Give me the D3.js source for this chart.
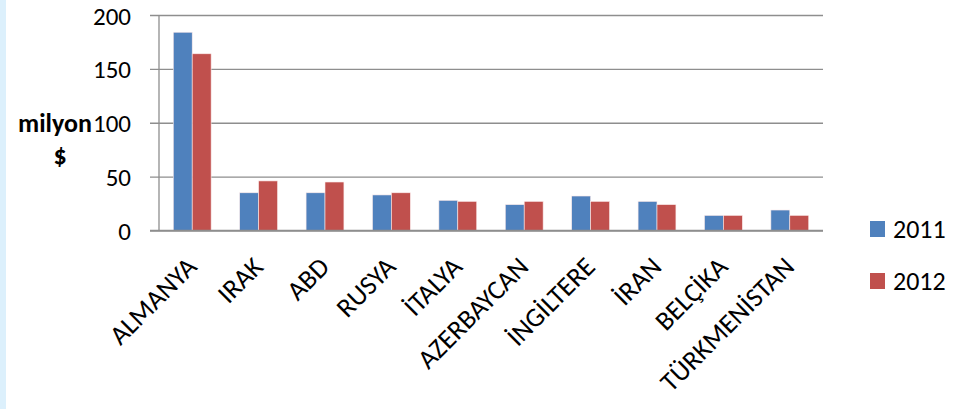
<!DOCTYPE html>
<html><head><meta charset="utf-8">
<script src="https://cdn.jsdelivr.net/npm/d3@7"></script>
<style>
html,body{margin:0;padding:0;background:#fff;}
text{font-family:Carlito,Lato,"Open Sans",sans-serif;fill:#000;}
</style></head>
<body><svg id="c" width="954" height="409"></svg>
<script>
const categories = ["ALMANYA","IRAK","ABD","RUSYA","İTALYA","AZERBAYCAN","İNGİLTERE","İRAN","BELÇİKA","TÜRKMENİSTAN"];
const seriesNames = ["2011","2012"];
const values2011 = [184, 35, 35, 33, 28, 24, 32, 27, 14, 19];
const values2012 = [164, 46, 45, 35, 27, 27, 27, 24, 14, 14];
const yTicks = [0, 50, 100, 150, 200];
const colors = ["#4f81bd", "#c0504d"];

const svg = d3.select("#c");
svg.append("rect").attr("x",0).attr("y",0).attr("width",6).attr("height",409).attr("fill","#dcf0fc");

const L = 159, R = 823, T = 15, B = 230.5;
const x = d3.scaleBand().domain(categories).range([L, R]).paddingInner(0.43).paddingOuter(0.215);
const xs = d3.scaleBand().domain(seriesNames).range([0, x.bandwidth()]);
const y = d3.scaleLinear().domain([0, 200]).range([B, T]);

// gridlines
const yAxis = d3.axisLeft(y).tickValues(yTicks).tickSize(-(R - L)).tickPadding(0).tickFormat(d3.format("d"));
const ga = svg.append("g").attr("transform", `translate(${L},0)`).call(yAxis);
ga.select(".domain").remove();
ga.selectAll(".tick line").attr("stroke", "#8e8e8e").attr("stroke-width", 1.3).attr("x1", -9);
ga.selectAll(".tick text").attr("x", -28).attr("dy", "0.36em").attr("font-size", 25).attr("fill", "#000")
  .style("font-family", "Carlito,Lato,sans-serif");
svg.append("line").attr("x1", L).attr("x2", L).attr("y1", T).attr("y2", B).attr("stroke", "#8e8e8e").attr("stroke-width", 1.3);

// bars
const data = categories.map((c, i) => ({c, vals: [values2011[i], values2012[i]]}));
const groups = svg.append("g").selectAll("g").data(data).join("g")
  .attr("transform", d => `translate(${x(d.c)},0)`);
groups.selectAll("rect").data(d => d.vals.map((v, j) => ({k: seriesNames[j], v, j})))
  .join("rect")
  .attr("x", d => xs(d.k)).attr("width", xs.bandwidth())
  .attr("y", d => y(d.v)).attr("height", d => y(0) - y(d.v))
  .attr("fill", d => colors[d.j]).attr("stroke", "#fbeaea").attr("stroke-width", 0.6);

// baseline over bars
svg.append("line").attr("x1", L - 9).attr("x2", R).attr("y1", B).attr("y2", B).attr("stroke", "#8e8e8e").attr("stroke-width", 1.3);

// x labels
const xAxis = d3.axisBottom(x).tickSize(0).tickPadding(0);
const gx = svg.append("g").attr("transform", `translate(0,${B})`).call(xAxis);
gx.select(".domain").remove();
gx.selectAll(".tick text")
  .attr("text-anchor", "end").attr("dy", 0).attr("y", 0)
  .attr("transform", "translate(6,38) rotate(-45)")
  .attr("font-size", 27).attr("fill", "#000")
  .style("font-family", "Carlito,Lato,sans-serif");

// y title
const yt = svg.append("text").attr("font-size", 26).attr("font-weight", "bold").attr("text-anchor", "middle");
yt.append("tspan").attr("x", 55).attr("y", 132).text("milyon");
yt.append("tspan").attr("x", 60).attr("y", 164).text("$");

// legend
const lg = svg.append("g").selectAll("g").data(seriesNames).join("g")
  .attr("transform", (d, i) => `translate(870,${221 + i * 52})`);
lg.append("rect").attr("width", 15).attr("height", 16).attr("fill", (d, i) => colors[i]);
lg.append("text").attr("x", 23).attr("y", 17).attr("font-size", 26).text(d => d);
</script></body></html>
